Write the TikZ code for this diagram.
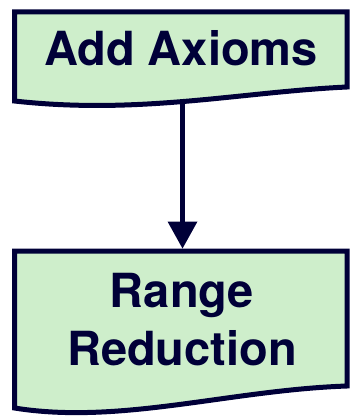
\documentclass[tikz,border=0pt]{standalone}
\usepackage{fontspec}
\setmainfont{TeX Gyre Heros}
\usetikzlibrary{arrows.meta}
\definecolor{navy}{RGB}{0,0,56}
\definecolor{docfill}{RGB}{206,238,203}
\tikzset{
  docbox/.style={draw=navy, fill=docfill, line width=5pt, line join=miter},
  label/.style={text=navy, font=\fontsize{47}{58}\selectfont\bfseries, anchor=base, inner sep=0pt, align=center},
  flow/.style={draw=navy, line width=5pt, -{Triangle[length=27pt,width=30pt,line width=0pt]}}
}
\begin{document}
\begin{tikzpicture}[x=1pt,y=-1pt]
\useasboundingbox (0,0) rectangle (349,417);
% Box 1
\path[docbox] (14.5,12) -- (347,12) -- (347,87)
  .. controls (240,92) and (140,115) .. (14.5,101) -- cycle;
\coordinate (b1bottom) at (182.5,101.5);
\node[label] (t1) at (181,66) {Add Axioms};
% Box 2
\path[docbox] (14.5,251) -- (347,251) -- (347,386)
  .. controls (230,390) and (120,425) .. (14.5,408) -- cycle;
\coordinate (b2top) at (182.5,248.5);
\node[label] (t2a) at (182,307) {Range};
\node[label] (t2b) at (182,365) {Reduction};
% Connector
\draw[flow] (b1bottom) -- (b2top);
\end{tikzpicture}
\end{document}
